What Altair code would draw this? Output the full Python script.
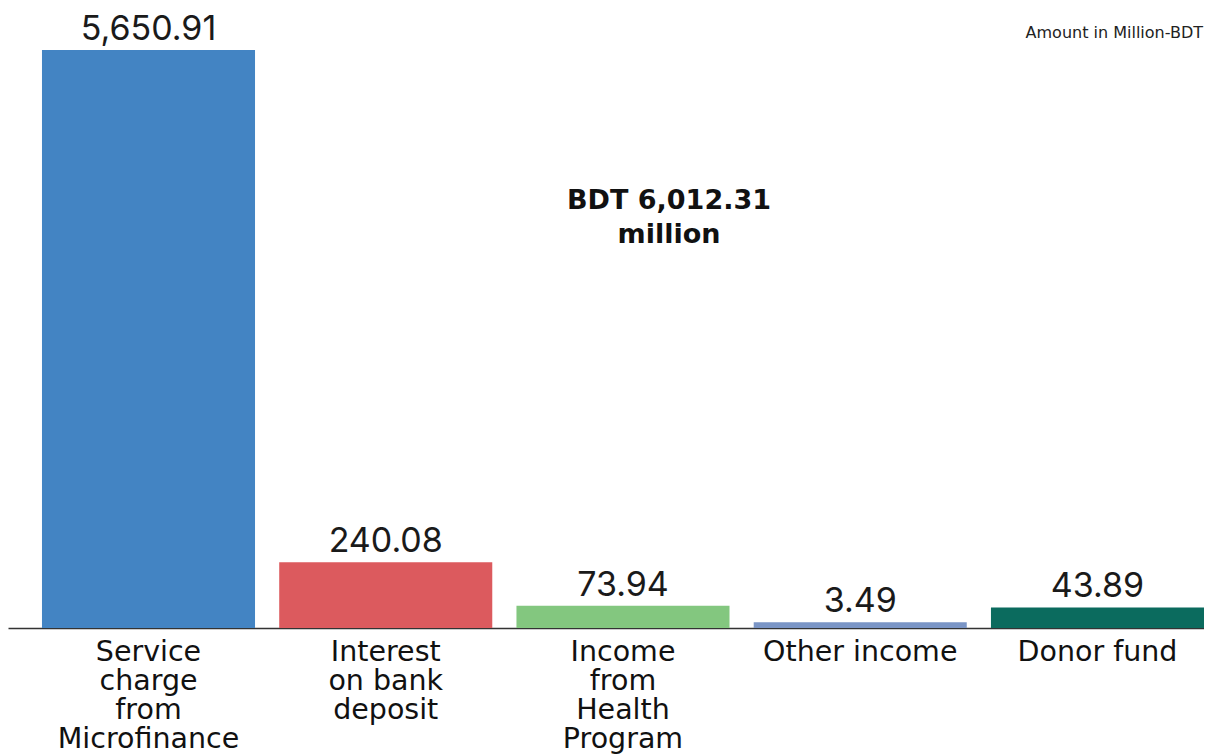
import altair as alt
import pandas as pd

# Categories ("|" marks a line break in the axis label)
categories = [
    "Service|charge|from|Microfinance",
    "Interest|on bank|deposit",
    "Income|from|Health|Program",
    "Other income",
    "Donor fund",
]
# Values printed above the bars (million BDT)
values = [5650.91, 240.08, 73.94, 3.49, 43.89]
# Bar heights as drawn in the reference (not proportional to the printed values)
drawn = [5650.91, 642, 218, 55, 201]
colors = ["#4384c3", "#dc5a5e", "#83c77f", "#7a95c6", "#0b6b5e"]

total_lines = ["BDT 6,012.31", "million"]
unit_note = "Amount in Million-BDT"

df = pd.DataFrame({"category": categories, "value": values, "drawn": drawn, "color": colors})

LABEL_FONT = "DejaVu Sans"
NUM_FONT = "Inter"

x_enc = alt.X(
    "category:N",
    sort=categories,
    scale=alt.Scale(paddingInner=0.102, paddingOuter=0.0716, align=1, round=False),
    axis=alt.Axis(
        title=None,
        labelAngle=0,
        ticks=False,
        domainColor="#333333",
        domainWidth=1.5,
        labelFont=LABEL_FONT,
        labelFontSize=28.5,
        labelColor="#111111",
        labelLineHeight=29,
        labelPadding=9,
        labelBaseline="top",
        labelExpr="split(datum.value, '|')",
        labelOverlap=False,
        labelLimit=300,
        grid=False,
    ),
)

bars = alt.Chart(df).mark_bar().encode(
    x=x_enc,
    y=alt.Y("drawn:Q", scale=alt.Scale(domain=[0, 6062], nice=False), axis=None),
    color=alt.Color("color:N", scale=None, legend=None),
)

labels = alt.Chart(df).mark_text(
    baseline="alphabetic", dy=-10, fontSize=34, font=NUM_FONT, color="#1a1a1a"
).encode(
    x=alt.X("category:N", sort=categories),
    y=alt.Y("drawn:Q"),
    text=alt.Text("value:Q", format=",.2f"),
)

center = alt.Chart(pd.DataFrame({"t": [total_lines]})).mark_text(
    fontSize=27, fontWeight="bold", font=LABEL_FONT, color="#111111",
    align="center", baseline="alphabetic", lineHeight=34,
).encode(x=alt.value(661), y=alt.value(201), text="t:N")

note = alt.Chart(pd.DataFrame({"t": [unit_note]})).mark_text(
    fontSize=16, font=LABEL_FONT, color="#222222", align="right", baseline="alphabetic",
).encode(x=alt.value(1195), y=alt.value(30), text="t:N")

chart = alt.layer(bars, labels, center, note).properties(
    width=1196, height=620,
    autosize=alt.AutoSizeParams(type="none"),
    padding={"left": 0, "top": 0, "right": 0, "bottom": 128},
).configure(background="white").configure_view(stroke="transparent", strokeWidth=0)

chart.save("out.html", embed_options={"renderer": "svg", "actions": False})
